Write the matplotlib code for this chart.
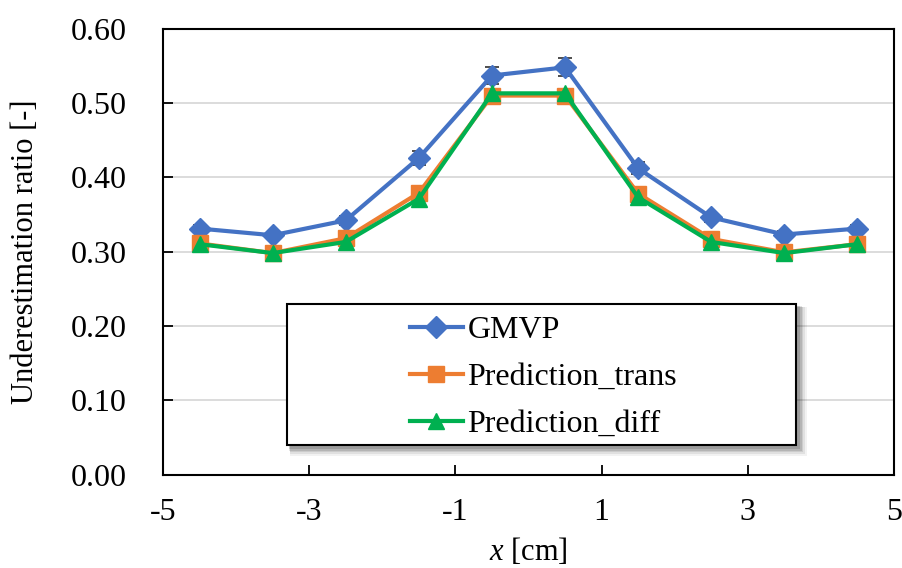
import matplotlib
matplotlib.use("Agg")
import matplotlib.pyplot as plt
from matplotlib.patches import Rectangle
from matplotlib.ticker import FormatStrFormatter, FixedLocator

plt.rcParams["font.family"] = ["Liberation Serif", "DejaVu Serif"]
plt.rcParams["mathtext.fontset"] = "custom"
plt.rcParams["mathtext.rm"] = "Liberation Serif"
plt.rcParams["mathtext.it"] = "Liberation Serif:italic"
plt.rcParams["axes.unicode_minus"] = False

# Positions along x [cm]
x_pos = [-4.5, -3.5, -2.5, -1.5, -0.5, 0.5, 1.5, 2.5, 3.5, 4.5]

# Underestimation ratios
gmvp = [0.331, 0.322, 0.342, 0.426, 0.537, 0.548, 0.412, 0.346, 0.323, 0.331]
gmvp_err = [0.005, 0.005, 0.006, 0.009, 0.012, 0.012, 0.008, 0.006, 0.005, 0.005]
pred_trans = [0.311, 0.298, 0.318, 0.379, 0.510, 0.510, 0.378, 0.317, 0.299, 0.310]
pred_diff = [0.310, 0.298, 0.313, 0.371, 0.513, 0.513, 0.373, 0.313, 0.298, 0.310]

series_names = ["GMVP", "Prediction_trans", "Prediction_diff"]
x_ticks = [-5, -3, -1, 1, 3, 5]
y_ticks = [0.0, 0.1, 0.2, 0.3, 0.4, 0.5, 0.6]

BLUE = "#4472C4"
ORANGE = "#ED7D31"
GREEN = "#00B050"

W, H = 903, 568
fig = plt.figure(figsize=(W / 100, H / 100), dpi=100)
left, right, top, bottom = 163, 894, 28.7, 474.5
ax = fig.add_axes([left / W, 1 - bottom / H, (right - left) / W, (bottom - top) / H])

ax.errorbar(x_pos, gmvp, yerr=gmvp_err, fmt="none", ecolor="#404040",
            elinewidth=1.2, capsize=5, capthick=1.3, zorder=2)
l1, = ax.plot(x_pos, gmvp, color=BLUE, lw=3, marker="D", ms=11, zorder=3)
l2, = ax.plot(x_pos, pred_trans, color=ORANGE, lw=3, marker="s", ms=11, zorder=4)
l3, = ax.plot(x_pos, pred_diff, color=GREEN, lw=3, marker="^", ms=12, zorder=5)

ax.set_xlim(-5, 5)
ax.set_ylim(0, 0.6)
ax.xaxis.set_major_locator(FixedLocator(x_ticks))
ax.yaxis.set_major_locator(FixedLocator(y_ticks))
ax.yaxis.set_major_formatter(FormatStrFormatter("%.2f"))
ax.tick_params(axis="both", direction="in", length=7, width=1.3, labelsize=23,
               colors="black")
ax.tick_params(axis="y", pad=26)
ax.tick_params(axis="x", pad=17)
ax.grid(axis="y", color="#D9D9D9", lw=1.3, zorder=0)
ax.set_axisbelow(True)
for sp in ax.spines.values():
    sp.set_linewidth(1.5)
    sp.set_color("black")

ax.set_ylabel("Underestimation ratio [-]", fontsize=22)
ax.yaxis.set_label_coords((40 - left) / (right - left), 0.5)
ax.set_xlabel("$x$ [cm]", fontsize=22)
ax.xaxis.set_label_coords(0.5, (bottom - 536) / (bottom - top))

# Legend frame with soft drop shadow
def fig_box(x0, y0, x1, y1):
    return (x0 / W, 1 - y1 / H, (x1 - x0) / W, (y1 - y0) / H)

bx0, by0, bx1, by1 = 287, 304, 796, 445
for i, a in enumerate([0.05, 0.07, 0.09, 0.11, 0.13]):
    off = 7 - i
    grow = 4 - i * 0.8
    fx, fy, fw, fh = fig_box(bx0 + off - grow, by0 + off - grow, bx1 + off + grow, by1 + off + grow)
    fig.patches.append(Rectangle((fx, fy), fw, fh, transform=fig.transFigure,
                                 facecolor="black", edgecolor="none", alpha=a, zorder=6))
fx, fy, fw, fh = fig_box(bx0, by0, bx1, by1)
fig.patches.append(Rectangle((fx, fy), fw, fh, transform=fig.transFigure,
                             facecolor="white", edgecolor="black", lw=1.5, zorder=7))

leg = fig.legend([l1, l2, l3], series_names, loc="upper left",
                 bbox_to_anchor=(410 / W, 1 - 316 / H), frameon=False,
                 fontsize=23, handlelength=1.65, handletextpad=0.15,
                 labelspacing=0.55, borderpad=0, borderaxespad=0)
leg.set_zorder(8)

fig.savefig("out.png", dpi=100)
